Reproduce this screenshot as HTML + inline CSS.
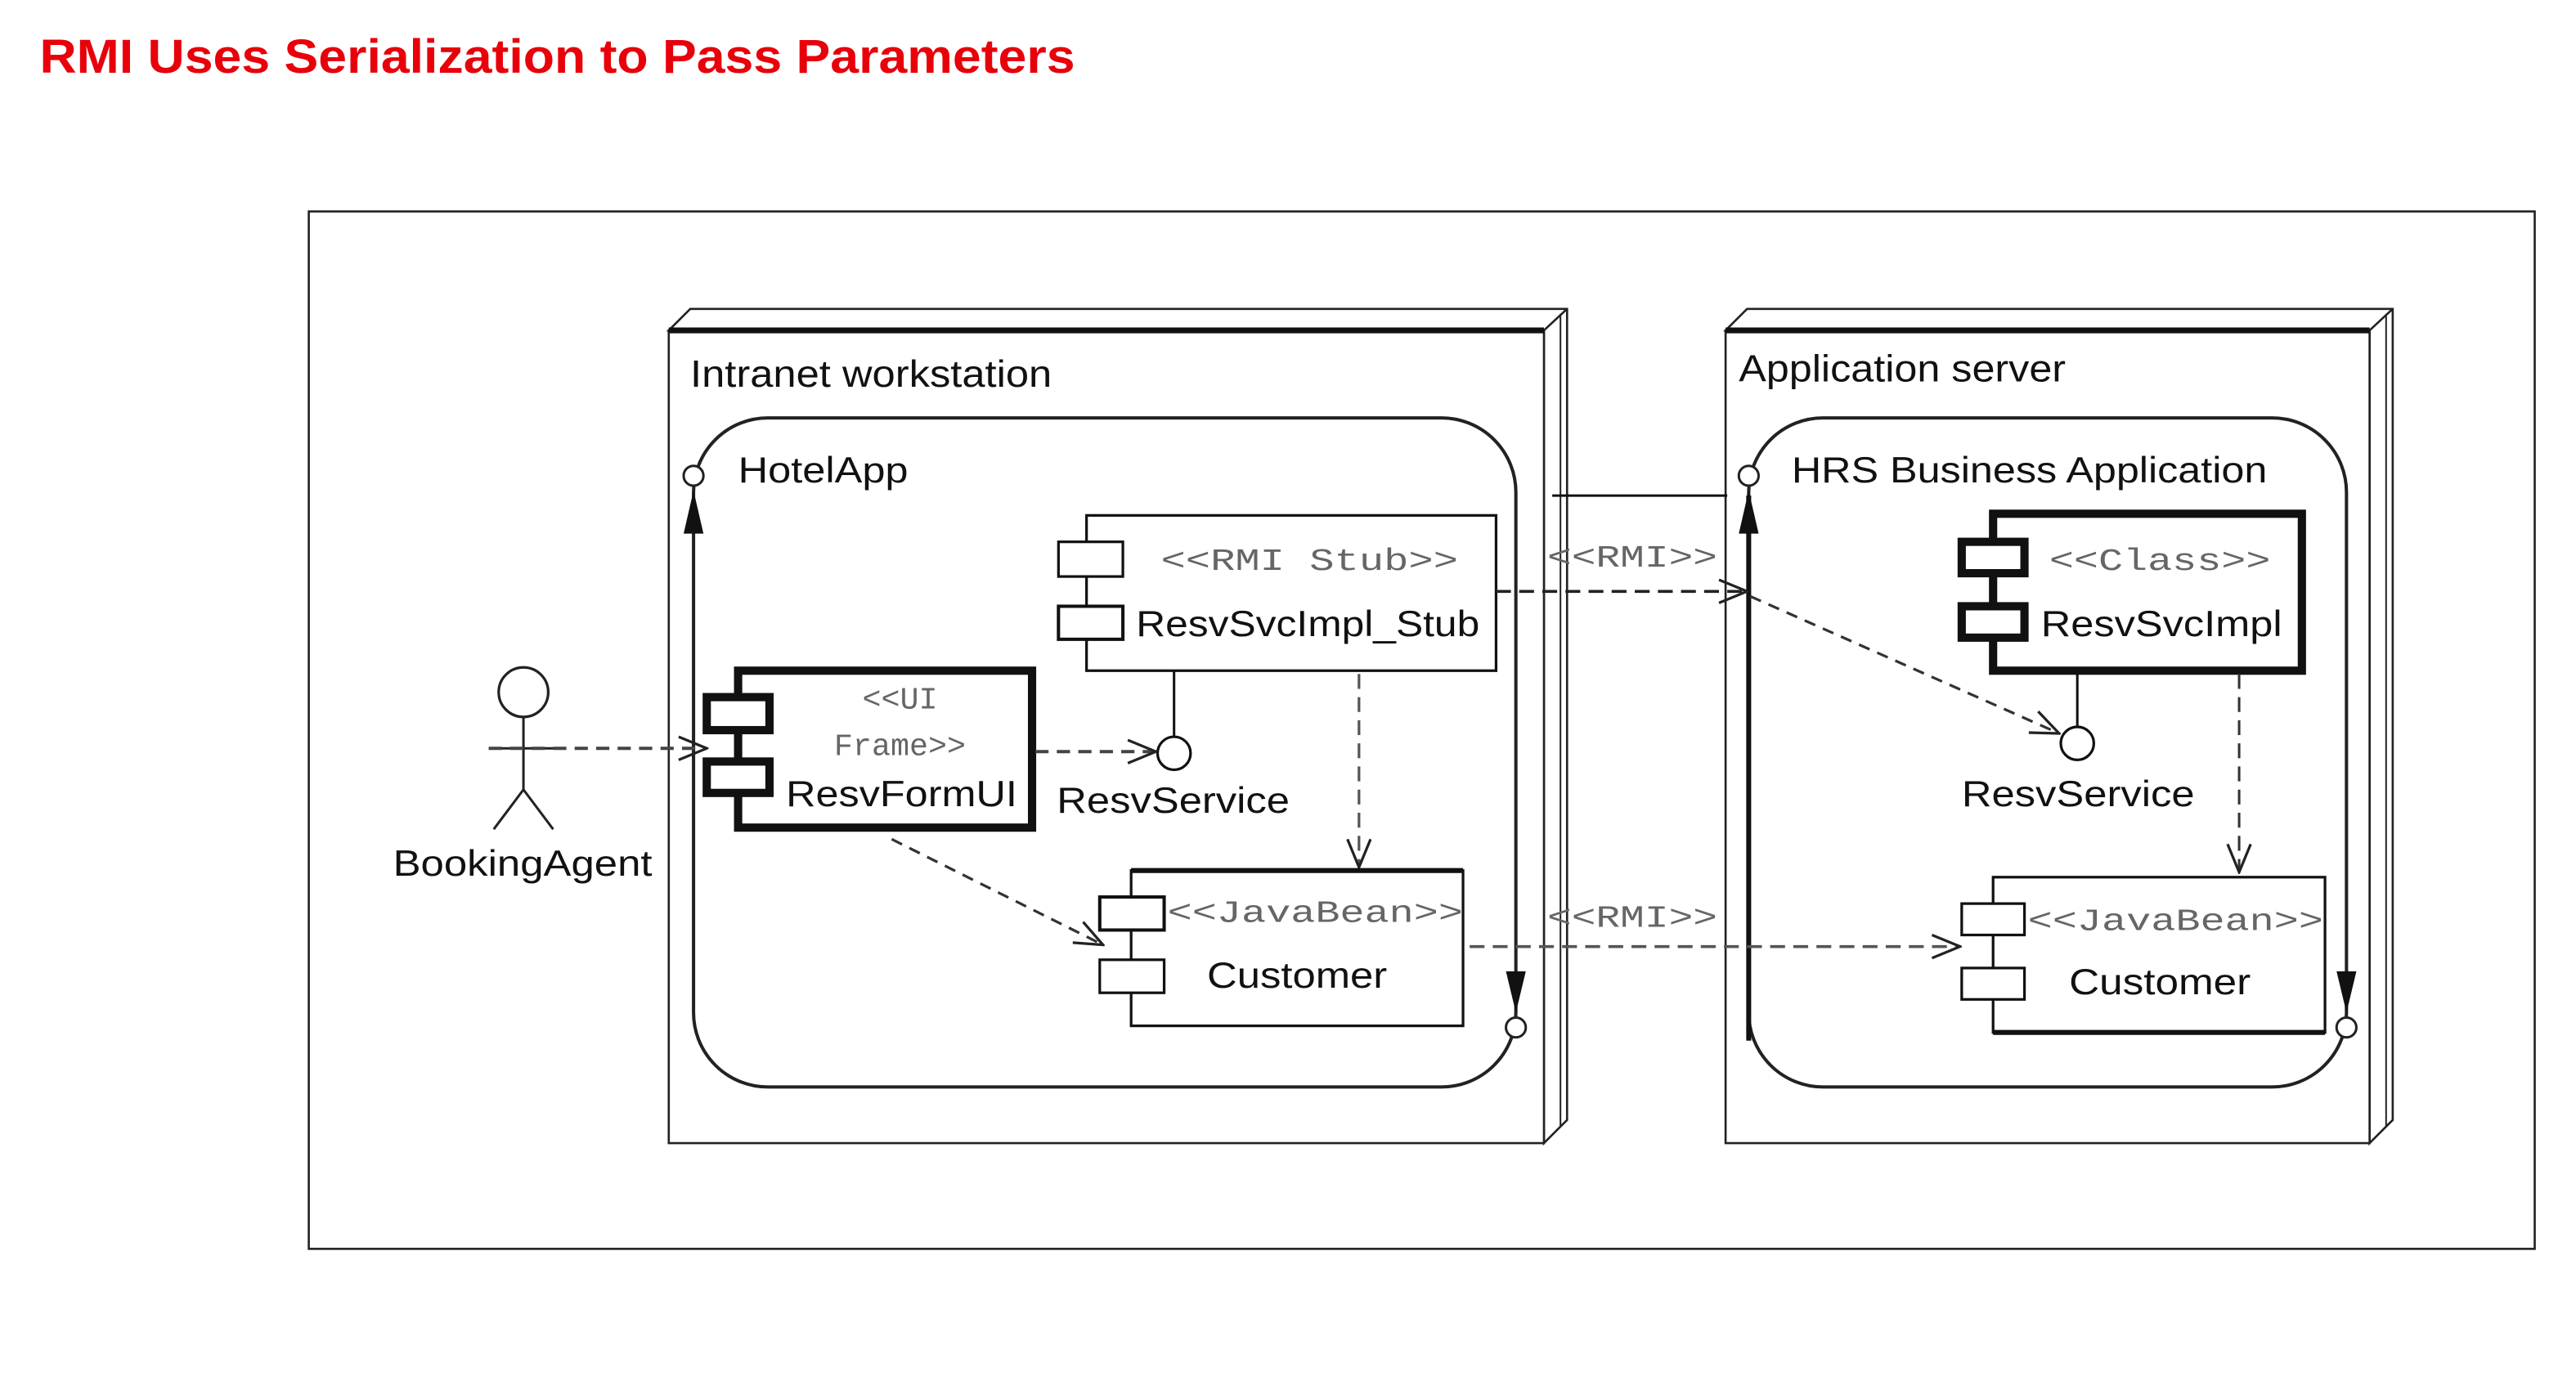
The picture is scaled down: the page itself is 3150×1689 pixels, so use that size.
<!DOCTYPE html>
<html><head><meta charset="utf-8"><style>
html,body{margin:0;padding:0;background:#fff;width:3150px;height:1689px;overflow:hidden}
svg{display:block}
text{font-family:"Liberation Sans",sans-serif;fill:#111}
.m{font-family:"Liberation Mono","DejaVu Sans Mono",monospace;fill:#666}
</style></head><body>
<svg width="3150" height="1689" viewBox="0 0 1560 836" preserveAspectRatio="none" xmlns="http://www.w3.org/2000/svg">
<defs>
<marker id="oa" viewBox="0 0 20 20" refX="19" refY="10" markerWidth="20" markerHeight="20" markerUnits="userSpaceOnUse" orient="auto">
<path d="M2,3 L19,10 L2,17" fill="none" stroke="#222" stroke-width="1.6"/>
</marker>
</defs>
<text x="24" y="44" font-size="29" font-weight="bold" style="fill:#e8000b" textLength="627" lengthAdjust="spacingAndGlyphs">RMI Uses Serialization to Pass Parameters</text>
<rect x="187" y="128" width="1348" height="628" fill="none" stroke="#222" stroke-width="1.3"/>

<!-- left node -->
<polygon points="405,200 418,187 949,187 949,678 935,692 935,200" fill="#fff" stroke="#222" stroke-width="1.3"/>
<line x1="935" y1="200" x2="949" y2="187" stroke="#222" stroke-width="1.3"/>
<line x1="945" y1="190" x2="945" y2="682" stroke="#222" stroke-width="1"/>
<rect x="405" y="200" width="530" height="492" fill="#fff" stroke="#222" stroke-width="1.3"/>
<line x1="405" y1="200" x2="935" y2="200" stroke="#111" stroke-width="3.5"/>
<text x="418" y="234" font-size="23" textLength="219" lengthAdjust="spacingAndGlyphs">Intranet workstation</text>
<rect x="420" y="253" width="498" height="405" rx="45" fill="none" stroke="#222" stroke-width="2"/>
<circle cx="420" cy="288" r="6" fill="#fff" stroke="#222" stroke-width="1.5"/>
<polygon points="420,297 414,323 426,323" fill="#111"/>
<circle cx="918" cy="622" r="6" fill="#fff" stroke="#222" stroke-width="1.5"/>
<polygon points="918,613 912,588 924,588" fill="#111"/>
<text x="447" y="292" font-size="22" textLength="103" lengthAdjust="spacingAndGlyphs">HotelApp</text>

<!-- RMI stub -->
<rect x="658" y="312" width="248" height="94" fill="#fff" stroke="#111" stroke-width="1.6"/>
<rect x="641" y="328" width="39" height="21" fill="#fff" stroke="#111" stroke-width="1.6"/>
<rect x="641" y="367" width="39" height="20" fill="#fff" stroke="#111" stroke-width="2"/>
<text class="m" x="703" y="345" font-size="19" textLength="180" lengthAdjust="spacingAndGlyphs">&lt;&lt;RMI Stub&gt;&gt;</text>
<text x="688" y="385" font-size="22" textLength="208" lengthAdjust="spacingAndGlyphs">ResvSvcImpl_Stub</text>
<line x1="711" y1="406" x2="711" y2="446" stroke="#111" stroke-width="1.5"/>
<circle cx="711" cy="456" r="10" fill="#fff" stroke="#111" stroke-width="1.6"/>

<!-- ResvFormUI -->
<rect x="447" y="406" width="178" height="95" fill="#fff" stroke="#111" stroke-width="5"/>
<rect x="428" y="422" width="38" height="20" fill="#fff" stroke="#111" stroke-width="5"/>
<rect x="428" y="461" width="38" height="19" fill="#fff" stroke="#111" stroke-width="5"/>
<text class="m" x="545" y="429" font-size="19" text-anchor="middle">&lt;&lt;UI</text>
<text class="m" x="545" y="457" font-size="19" text-anchor="middle">Frame&gt;&gt;</text>
<text x="476" y="488" font-size="22" textLength="140" lengthAdjust="spacingAndGlyphs">ResvFormUI</text>
<line x1="627" y1="455" x2="700" y2="455" stroke="#444" stroke-width="2" stroke-dasharray="8,5" marker-end="url(#oa)"/>
<text x="640" y="492" font-size="22" textLength="141" lengthAdjust="spacingAndGlyphs">ResvService</text>

<!-- actor -->
<circle cx="317" cy="419" r="15" fill="#fff" stroke="#222" stroke-width="1.6"/>
<line x1="317" y1="434" x2="317" y2="478" stroke="#222" stroke-width="1.5"/>
<polyline points="299,502 317,478 335,502" fill="none" stroke="#222" stroke-width="1.5"/>
<line x1="296" y1="453" x2="340" y2="453" stroke="#222" stroke-width="1.5"/>
<line x1="296" y1="453" x2="428" y2="453" stroke="#444" stroke-width="2" stroke-dasharray="8,5" marker-end="url(#oa)"/>
<text x="238" y="530" font-size="22" textLength="157" lengthAdjust="spacingAndGlyphs">BookingAgent</text>

<line x1="540" y1="508" x2="668" y2="572" stroke="#333" stroke-width="1.6" stroke-dasharray="7,5" marker-end="url(#oa)"/>
<line x1="823" y1="408" x2="823" y2="525" stroke="#555" stroke-width="1.6" stroke-dasharray="9,5" marker-end="url(#oa)"/>

<!-- Customer left -->
<rect x="685" y="527" width="201" height="94" fill="#fff" stroke="#111" stroke-width="1.6"/>
<line x1="685" y1="527" x2="886" y2="527" stroke="#111" stroke-width="3"/>
<rect x="666" y="543" width="39" height="20" fill="#fff" stroke="#111" stroke-width="2"/>
<rect x="666" y="581" width="39" height="20" fill="#fff" stroke="#111" stroke-width="1.6"/>
<text class="m" x="707" y="558" font-size="19" textLength="179" lengthAdjust="spacingAndGlyphs">&lt;&lt;JavaBean&gt;&gt;</text>
<text x="731" y="598" font-size="22" textLength="109" lengthAdjust="spacingAndGlyphs">Customer</text>

<!-- right node -->
<polygon points="1045,200 1058,187 1449,187 1449,678 1435,692 1435,200" fill="#fff" stroke="#222" stroke-width="1.3"/>
<line x1="1435" y1="200" x2="1449" y2="187" stroke="#222" stroke-width="1.3"/>
<line x1="1445" y1="190" x2="1445" y2="682" stroke="#222" stroke-width="1"/>
<rect x="1045" y="200" width="390" height="492" fill="#fff" stroke="#222" stroke-width="1.3"/>
<line x1="1045" y1="200" x2="1435" y2="200" stroke="#111" stroke-width="3.5"/>
<text x="1053" y="231" font-size="23" textLength="198" lengthAdjust="spacingAndGlyphs">Application server</text>
<rect x="1059" y="253" width="362" height="405" rx="45" fill="none" stroke="#222" stroke-width="2"/>
<line x1="1059" y1="300" x2="1059" y2="630" stroke="#111" stroke-width="3"/>
<circle cx="1059" cy="288" r="6" fill="#fff" stroke="#222" stroke-width="1.5"/>
<polygon points="1059,297 1053,323 1065,323" fill="#111"/>
<circle cx="1421" cy="622" r="6" fill="#fff" stroke="#222" stroke-width="1.5"/>
<polygon points="1421,613 1415,588 1427,588" fill="#111"/>
<text x="1085" y="292" font-size="22" textLength="288" lengthAdjust="spacingAndGlyphs">HRS Business Application</text>

<!-- Class -->
<rect x="1207" y="311" width="187" height="95" fill="#fff" stroke="#111" stroke-width="5"/>
<rect x="1188" y="328" width="38" height="19" fill="#fff" stroke="#111" stroke-width="5"/>
<rect x="1188" y="367" width="38" height="19" fill="#fff" stroke="#111" stroke-width="5"/>
<text class="m" x="1241" y="345" font-size="19" textLength="134" lengthAdjust="spacingAndGlyphs">&lt;&lt;Class&gt;&gt;</text>
<text x="1236" y="385" font-size="22" textLength="146" lengthAdjust="spacingAndGlyphs">ResvSvcImpl</text>
<line x1="1258" y1="408" x2="1258" y2="440" stroke="#111" stroke-width="1.5"/>
<circle cx="1258" cy="450" r="10" fill="#fff" stroke="#111" stroke-width="1.6"/>
<text x="1188" y="488" font-size="22" textLength="141" lengthAdjust="spacingAndGlyphs">ResvService</text>
<line x1="1356" y1="408" x2="1356" y2="528" stroke="#333" stroke-width="1.5" stroke-dasharray="9,5" marker-end="url(#oa)"/>

<!-- Customer right -->
<rect x="1207" y="531" width="201" height="94" fill="#fff" stroke="#111" stroke-width="1.6"/>
<line x1="1207" y1="625" x2="1408" y2="625" stroke="#111" stroke-width="3"/>
<rect x="1188" y="547" width="38" height="19" fill="#fff" stroke="#111" stroke-width="1.6"/>
<rect x="1188" y="586" width="38" height="19" fill="#fff" stroke="#111" stroke-width="1.6"/>
<text class="m" x="1228" y="563" font-size="19" textLength="179" lengthAdjust="spacingAndGlyphs">&lt;&lt;JavaBean&gt;&gt;</text>
<text x="1253" y="602" font-size="22" textLength="110" lengthAdjust="spacingAndGlyphs">Customer</text>

<!-- RMI connectors -->
<line x1="940" y1="300" x2="1046" y2="300" stroke="#111" stroke-width="1.5"/>
<text class="m" x="937" y="343" font-size="19" textLength="103" lengthAdjust="spacingAndGlyphs">&lt;&lt;RMI&gt;&gt;</text>
<line x1="906" y1="358" x2="1058" y2="358" stroke="#222" stroke-width="1.8" stroke-dasharray="9,5" marker-end="url(#oa)"/>
<line x1="1060" y1="361" x2="1247" y2="444" stroke="#333" stroke-width="1.6" stroke-dasharray="7,5" marker-end="url(#oa)"/>
<text class="m" x="937" y="561" font-size="19" textLength="103" lengthAdjust="spacingAndGlyphs">&lt;&lt;RMI&gt;&gt;</text>
<line x1="890" y1="573" x2="1187" y2="573" stroke="#555" stroke-width="1.8" stroke-dasharray="9,5" marker-end="url(#oa)"/>
</svg>
</body></html>
